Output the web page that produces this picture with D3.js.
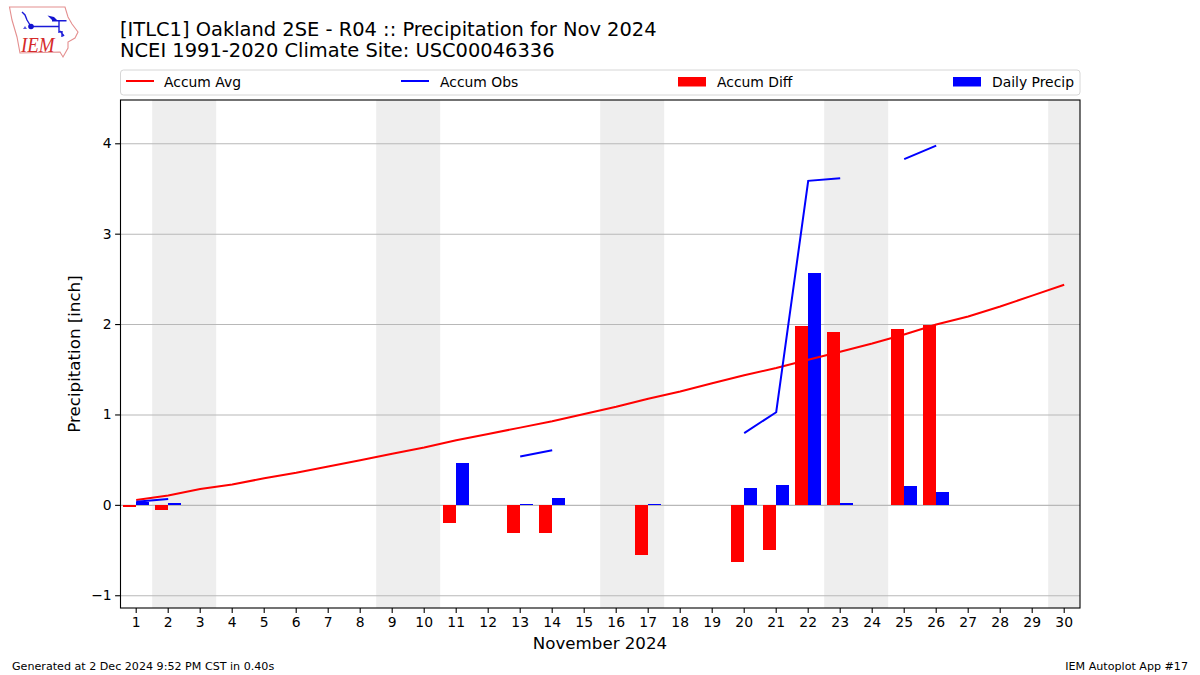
<!DOCTYPE html>
<html><head><meta charset="utf-8">
<script src="https://cdn.jsdelivr.net/npm/d3@7/dist/d3.min.js"></script>
<style>html,body{margin:0;padding:0;background:#fff}svg{display:block}text{font-family:"DejaVu Sans",sans-serif;fill:#000}</style>
</head><body><svg id="c" width="1200" height="675"></svg>
<script>
const days = d3.range(1, 31);
const accumAvg = [0.06,0.11,0.18,0.23,0.30,0.36,0.43,0.50,0.57,0.64,0.72,0.79,0.86,0.93,1.01,1.09,1.18,1.26,1.35,1.44,1.52,1.61,1.70,1.79,1.89,2.00,2.09,2.20,2.32,2.44];
const accumObs = [0.04,0.07,null,null,null,null,null,null,null,null,null,null,0.54,0.61,null,null,null,null,null,0.80,1.03,3.59,3.62,null,3.83,3.98,null,null,null,null];
const accumDiff = [-0.02,-0.05,null,null,null,null,null,null,null,null,-0.19,null,-0.31,-0.31,null,null,-0.55,null,null,-0.63,-0.49,1.98,1.92,null,1.95,1.99,null,null,null,null];
const dailyPrecip = [0.04,0.03,null,null,null,null,null,null,null,null,0.47,null,0.01,0.08,null,null,0.01,null,null,0.19,0.23,2.57,0.03,null,0.21,0.15,null,null,null,null];
const weekends = [[1.5,3.5],[8.5,10.5],[15.5,17.5],[22.5,24.5],[29.5,30.5]];
const yTicks = [-1,0,1,2,3,4];
const titleLines = ["[ITLC1] Oakland 2SE - R04 :: Precipitation for Nov 2024","NCEI 1991-2020 Climate Site: USC00046336"];
const legendLabels = ["Accum Avg","Accum Obs","Accum Diff","Daily Precip"];

const L=120,R=1080,T=100,B=608;
const svg=d3.select("#c");
const x=d3.scaleLinear().domain([0.5,30.5]).range([L+0.2,R+0.2]);
const y=d3.scaleLinear().domain([-1.14,4.48]).range([B+0.4,T+0.4]);
const barW=0.4;

svg.append("g").selectAll("rect").data(weekends).join("rect")
 .attr("x",d=>x(d[0])).attr("width",d=>Math.min(x(d[1]),R)-x(d[0])).attr("y",T).attr("height",B-T).attr("fill","#eeeeee");
svg.append("g").selectAll("line").data(yTicks).join("line")
 .attr("x1",L).attr("x2",R).attr("y1",d=>y(d)).attr("y2",d=>y(d)).attr("stroke","#b8b8b8").attr("stroke-width",1.1);

const bar=(vals,off,col)=>svg.append("g").attr("shape-rendering","crispEdges").selectAll("rect")
 .data(days.map((d,i)=>({d,v:vals[i]})).filter(o=>o.v!==null)).join("rect")
 .attr("x",o=>x(o.d+off)).attr("width",o=>x(o.d+off+barW)-x(o.d+off))
 .attr("y",o=>y(Math.max(0,o.v))).attr("height",o=>Math.abs(y(o.v)-y(0))).attr("fill",col);
bar(accumDiff,-barW,"#ff0000");
bar(dailyPrecip,0,"#0000ff");

const ln=d3.line().defined(o=>o.v!==null).x(o=>x(o.d)).y(o=>y(o.v));
svg.append("path").datum(days.map((d,i)=>({d,v:accumAvg[i]}))).attr("d",ln).attr("fill","none").attr("stroke","#ff0000").attr("stroke-width",2);
svg.append("path").datum(days.map((d,i)=>({d,v:accumObs[i]}))).attr("d",ln).attr("fill","none").attr("stroke","#0000ff").attr("stroke-width",2);

svg.append("rect").attr("x",L+0.5).attr("y",T).attr("width",R-L-0.5).attr("height",B-T).attr("fill","none").attr("stroke","#000").attr("stroke-width",1.1);

const xAxis=d3.axisBottom(x).tickValues(days).tickFormat(d3.format("d")).tickSize(4.9).tickPadding(4).offset(0);
const gx=svg.append("g").attr("transform",`translate(0,${B})`).call(xAxis);
const yAxis=d3.axisLeft(y).tickValues(yTicks).tickFormat(d=>d<0?"\u2212"+(-d):d).tickSize(4.9).tickPadding(3.5).offset(0);
const gy=svg.append("g").attr("transform",`translate(${L},0)`).call(yAxis);
[gx,gy].forEach(g=>{g.select(".domain").remove();g.selectAll("line").attr("stroke","#000").attr("stroke-width",1.1);
 g.selectAll("text").attr("font-size",13.9).attr("font-family",'"DejaVu Sans"').attr("fill","#000");});

svg.append("text").attr("x",600).attr("y",649).attr("text-anchor","middle").attr("font-size",16.67).text("November 2024");
svg.append("text").attr("transform","translate(80,354) rotate(-90)").attr("text-anchor","middle").attr("font-size",16.67).text("Precipitation [inch]");

svg.selectAll(".ttl").data(titleLines).join("text").attr("class","ttl").attr("x",120).attr("y",(d,i)=>35.5+i*21.5).attr("font-size",19.44).text(d=>d);

svg.append("text").attr("x",12).attr("y",670).attr("font-size",11.12).text("Generated at 2 Dec 2024 9:52 PM CST in 0.40s");
svg.append("text").attr("x",1188).attr("y",670).attr("text-anchor","end").attr("font-size",11.12).text("IEM Autoplot App #17");

// legend
svg.append("rect").attr("x",120.5).attr("y",70).attr("width",959.5).attr("height",25).attr("rx",3).attr("fill","#fff").attr("stroke","#d6d6d6").attr("stroke-width",1);
const ly=82;
const legendPos=[[126,164],[401,440],[678,717],[953,992]];
legendLabels.forEach((t,i)=>{
  const [sx,tx]=legendPos[i];
  if(i<2) svg.append("line").attr("x1",sx).attr("x2",sx+28).attr("y1",ly-1).attr("y2",ly-1).attr("stroke",i==0?"#ff0000":"#0000ff").attr("stroke-width",2);
  else svg.append("rect").attr("x",sx).attr("y",ly-5).attr("width",28).attr("height",9.5).attr("fill",i==2?"#ff0000":"#0000ff");
  svg.append("text").attr("x",tx).attr("y",ly+4.5).attr("font-size",13.9).text(t);
});

// IEM logo
const logo=svg.append("g");
logo.append("path").attr("d","M9.5 7 L65 7 L68 17 L72 24 L78 32 L75 38 L68 42 L68 48 L63 57 L60 52 L20 53 L17 37 L12 20 Z").attr("fill","#fff").attr("stroke","#e48f8f").attr("stroke-width",1.1);
logo.append("path").attr("d","M31 26.5 H59 M59 21 V33 M22 12 L25 15 L27 20 L31 26.5 M52 20.7 H66.5 M62 31 V37 M60 31 L64 36").attr("fill","none").attr("stroke","#1a1ad8").attr("stroke-width",1.4);
logo.append("circle").attr("cx",31).attr("cy",26.5).attr("r",2.8).attr("fill","#1212d0");
logo.append("path").attr("d","M47.5 15.5 L54 17 L58 21 L53 21 Z").attr("fill","#1212d0");
logo.append("path").attr("d","M23 29 L25 26 L27 29 Z").attr("fill","#5a5ae0");
logo.append("text").attr("transform","translate(21,52) scale(0.86,1)").attr("font-size",22).style("font-family",'"Liberation Serif",serif').attr("font-style","italic").style("fill","#d52a2a").text("IEM");
</script></body></html>
